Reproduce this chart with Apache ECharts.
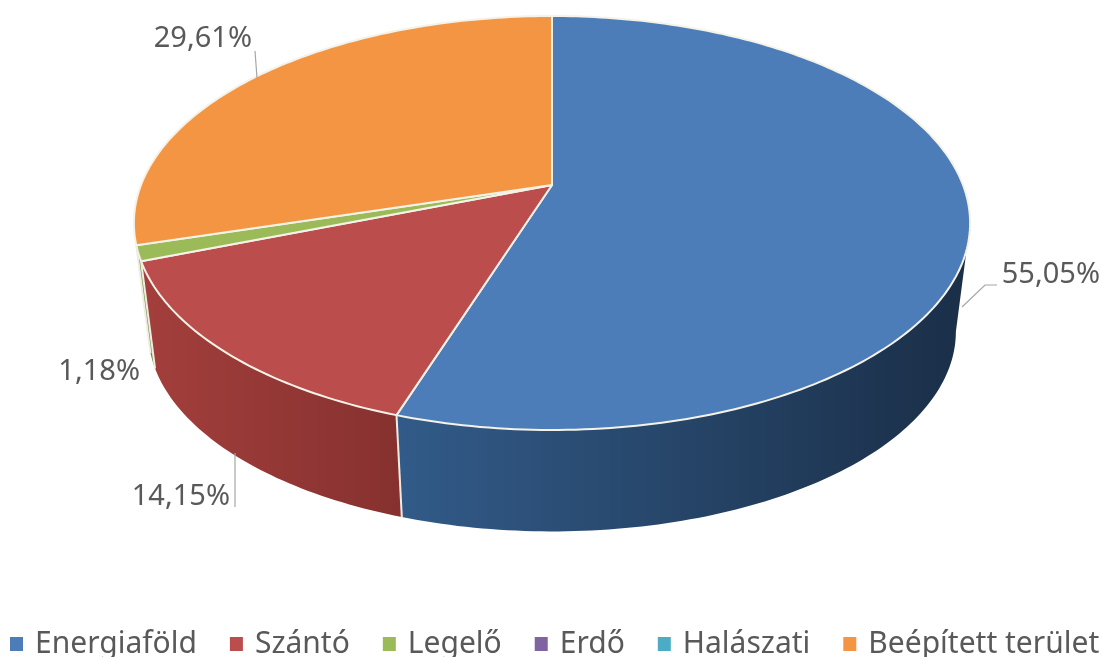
<!DOCTYPE html>
<html>
<head>
<meta charset="utf-8">
<title>Földhasználat</title>
<style>
html, body { margin: 0; padding: 0; background: #fff; }
#pie3d { width: 1112px; height: 657px; }
</style>
<script src="https://cdn.jsdelivr.net/npm/echarts@6/dist/echarts.min.js"></script>
</head>
<body>
<div id="pie3d"></div>
<script>
// adatok
const categories = ['Energiaföld', 'Szántó', 'Legelő', 'Erdő', 'Halászati', 'Beépített terület'];
const shares = [55.05, 14.15, 1.18, 0, 0, 29.61];

// színek
const topColors = ['#4c7db8', '#bb4e4c', '#9bbb59', '#8064a2', '#4bacc6', '#f39543'];
const sideLeft = ['#325b89', '#a33f3c', '#7d9a45', '#64507f', '#3a8aa0', '#c4752f'];
const sideRight = ['#1a2e47', '#86312f', '#6f8a3c', '#54436c', '#307488', '#a8642a'];

// felirat helyek: [x, y, igazítás]
const labelPos = [[1100, 275, 'right'], [230, 497, 'right'], [140, 372, 'right'], null, null, [252, 39, 'right']];
const leaders = [
    [[962, 307], [985, 285], [997, 285]],
    [[235, 453], [235, 507]],
    null, null, null,
    [[257, 78], [255, 51]]
];

// perspektíva: a tető és az alja ugyanaz a kör, kicsit más méretben
const persp = -0.1836;
const topDisc = { cx: 552, cy: 185, ax: 411, by: 200 };
const botDisc = { cx: 552, cy: 295, ax: 397, by: 193 };
// csak az elöl látszó palást szög-tartománya
const sideFrom = 100.6;
const sideTo = 254;

function project(disc, deg) {
    let rad = deg * Math.PI / 180;
    let x = Math.sin(rad);
    let y = -Math.cos(rad);
    let w = 1 + persp * y;
    return [disc.cx + disc.ax * x / w, disc.cy + disc.by * y / w];
}

function arc(disc, from, to) {
    let pts = [];
    let n = Math.max(2, Math.ceil(Math.abs(to - from)));
    for (let i = 0; i <= n; i++) {
        pts.push(project(disc, from + (to - from) * i / n));
    }
    return pts;
}

function startAngle(idx) {
    let total = shares.reduce(function(a, b) { return a + b; }, 0);
    let sum = 0;
    for (let i = 0; i < idx; i++) {
        sum += shares[i];
    }
    return sum / total * 360;
}

function renderSlice(idx, params, api) {
    let value = api.value(0);
    if (!value) {
        return { type: 'group', children: [] };
    }
    let from = startAngle(idx);
    let to = startAngle(idx + 1);
    let children = [];

    // palást
    let a = Math.max(from, sideFrom);
    let b = Math.min(to, sideTo);
    if (b > a) {
        let pts = arc(topDisc, a, b).concat(arc(botDisc, b, a));
        children.push({
            type: 'polygon',
            shape: { points: pts },
            style: {
                fill: new echarts.graphic.LinearGradient(0, 0, 1, 0, [
                    { offset: 0, color: sideLeft[idx] },
                    { offset: 1, color: sideRight[idx] }
                ]),
                stroke: null
            }
        });
    }

    // tető
    let topPts = [[topDisc.cx, topDisc.cy]].concat(arc(topDisc, from, to));
    children.push({
        type: 'polygon',
        shape: { points: topPts },
        style: { fill: topColors[idx], stroke: '#f5f2e8', lineWidth: 2, lineJoin: 'round' }
    });

    // függőleges él a szelet elején
    if (from > sideFrom && from < sideTo) {
        let p1 = project(topDisc, from);
        let p2 = project(botDisc, from);
        children.push({
            type: 'line',
            shape: { x1: p1[0], y1: p1[1], x2: p2[0], y2: p2[1] },
            style: { stroke: '#f0ece2', lineWidth: 2 }
        });
    }

    // vezetővonal
    if (leaders[idx]) {
        children.push({
            type: 'polyline',
            shape: { points: leaders[idx] },
            style: { fill: null, stroke: '#a6a6a6', lineWidth: 1.2 }
        });
    }

    // felirat
    if (labelPos[idx]) {
        children.push({
            type: 'text',
            style: {
                text: value.toFixed(2).replace('.', ',') + '%',
                x: labelPos[idx][0],
                y: labelPos[idx][1],
                align: labelPos[idx][2],
                verticalAlign: 'middle',
                fill: '#595959',
                fontSize: 29,
                fontFamily: 'Noto Sans'
            }
        });
    }
    return { type: 'group', children: children };
}

function makeSeries() {
    return categories.map(function(name, idx) {
        return {
            type: 'custom',
            name: name,
            coordinateSystem: 'none',
            silent: true,
            animation: false,
            itemStyle: { color: topColors[idx] },
            data: [[shares[idx]]],
            renderItem: function(params, api) {
                return renderSlice(idx, params, api);
            }
        };
    });
}

let chart = echarts.init(document.getElementById('pie3d'));
chart.setOption({
    backgroundColor: '#fff',
    animation: false,
    legend: {
        data: categories,
        left: 5,
        top: 624,
        icon: 'rect',
        itemWidth: 13,
        itemHeight: 14,
        itemGap: 33,
        padding: 5,
        selectedMode: false,
        textStyle: { color: '#595959', fontSize: 30, fontFamily: 'Noto Sans', padding: [0, 0, 6, 7] }
    },
    series: makeSeries()
});
</script>
</body>
</html>
